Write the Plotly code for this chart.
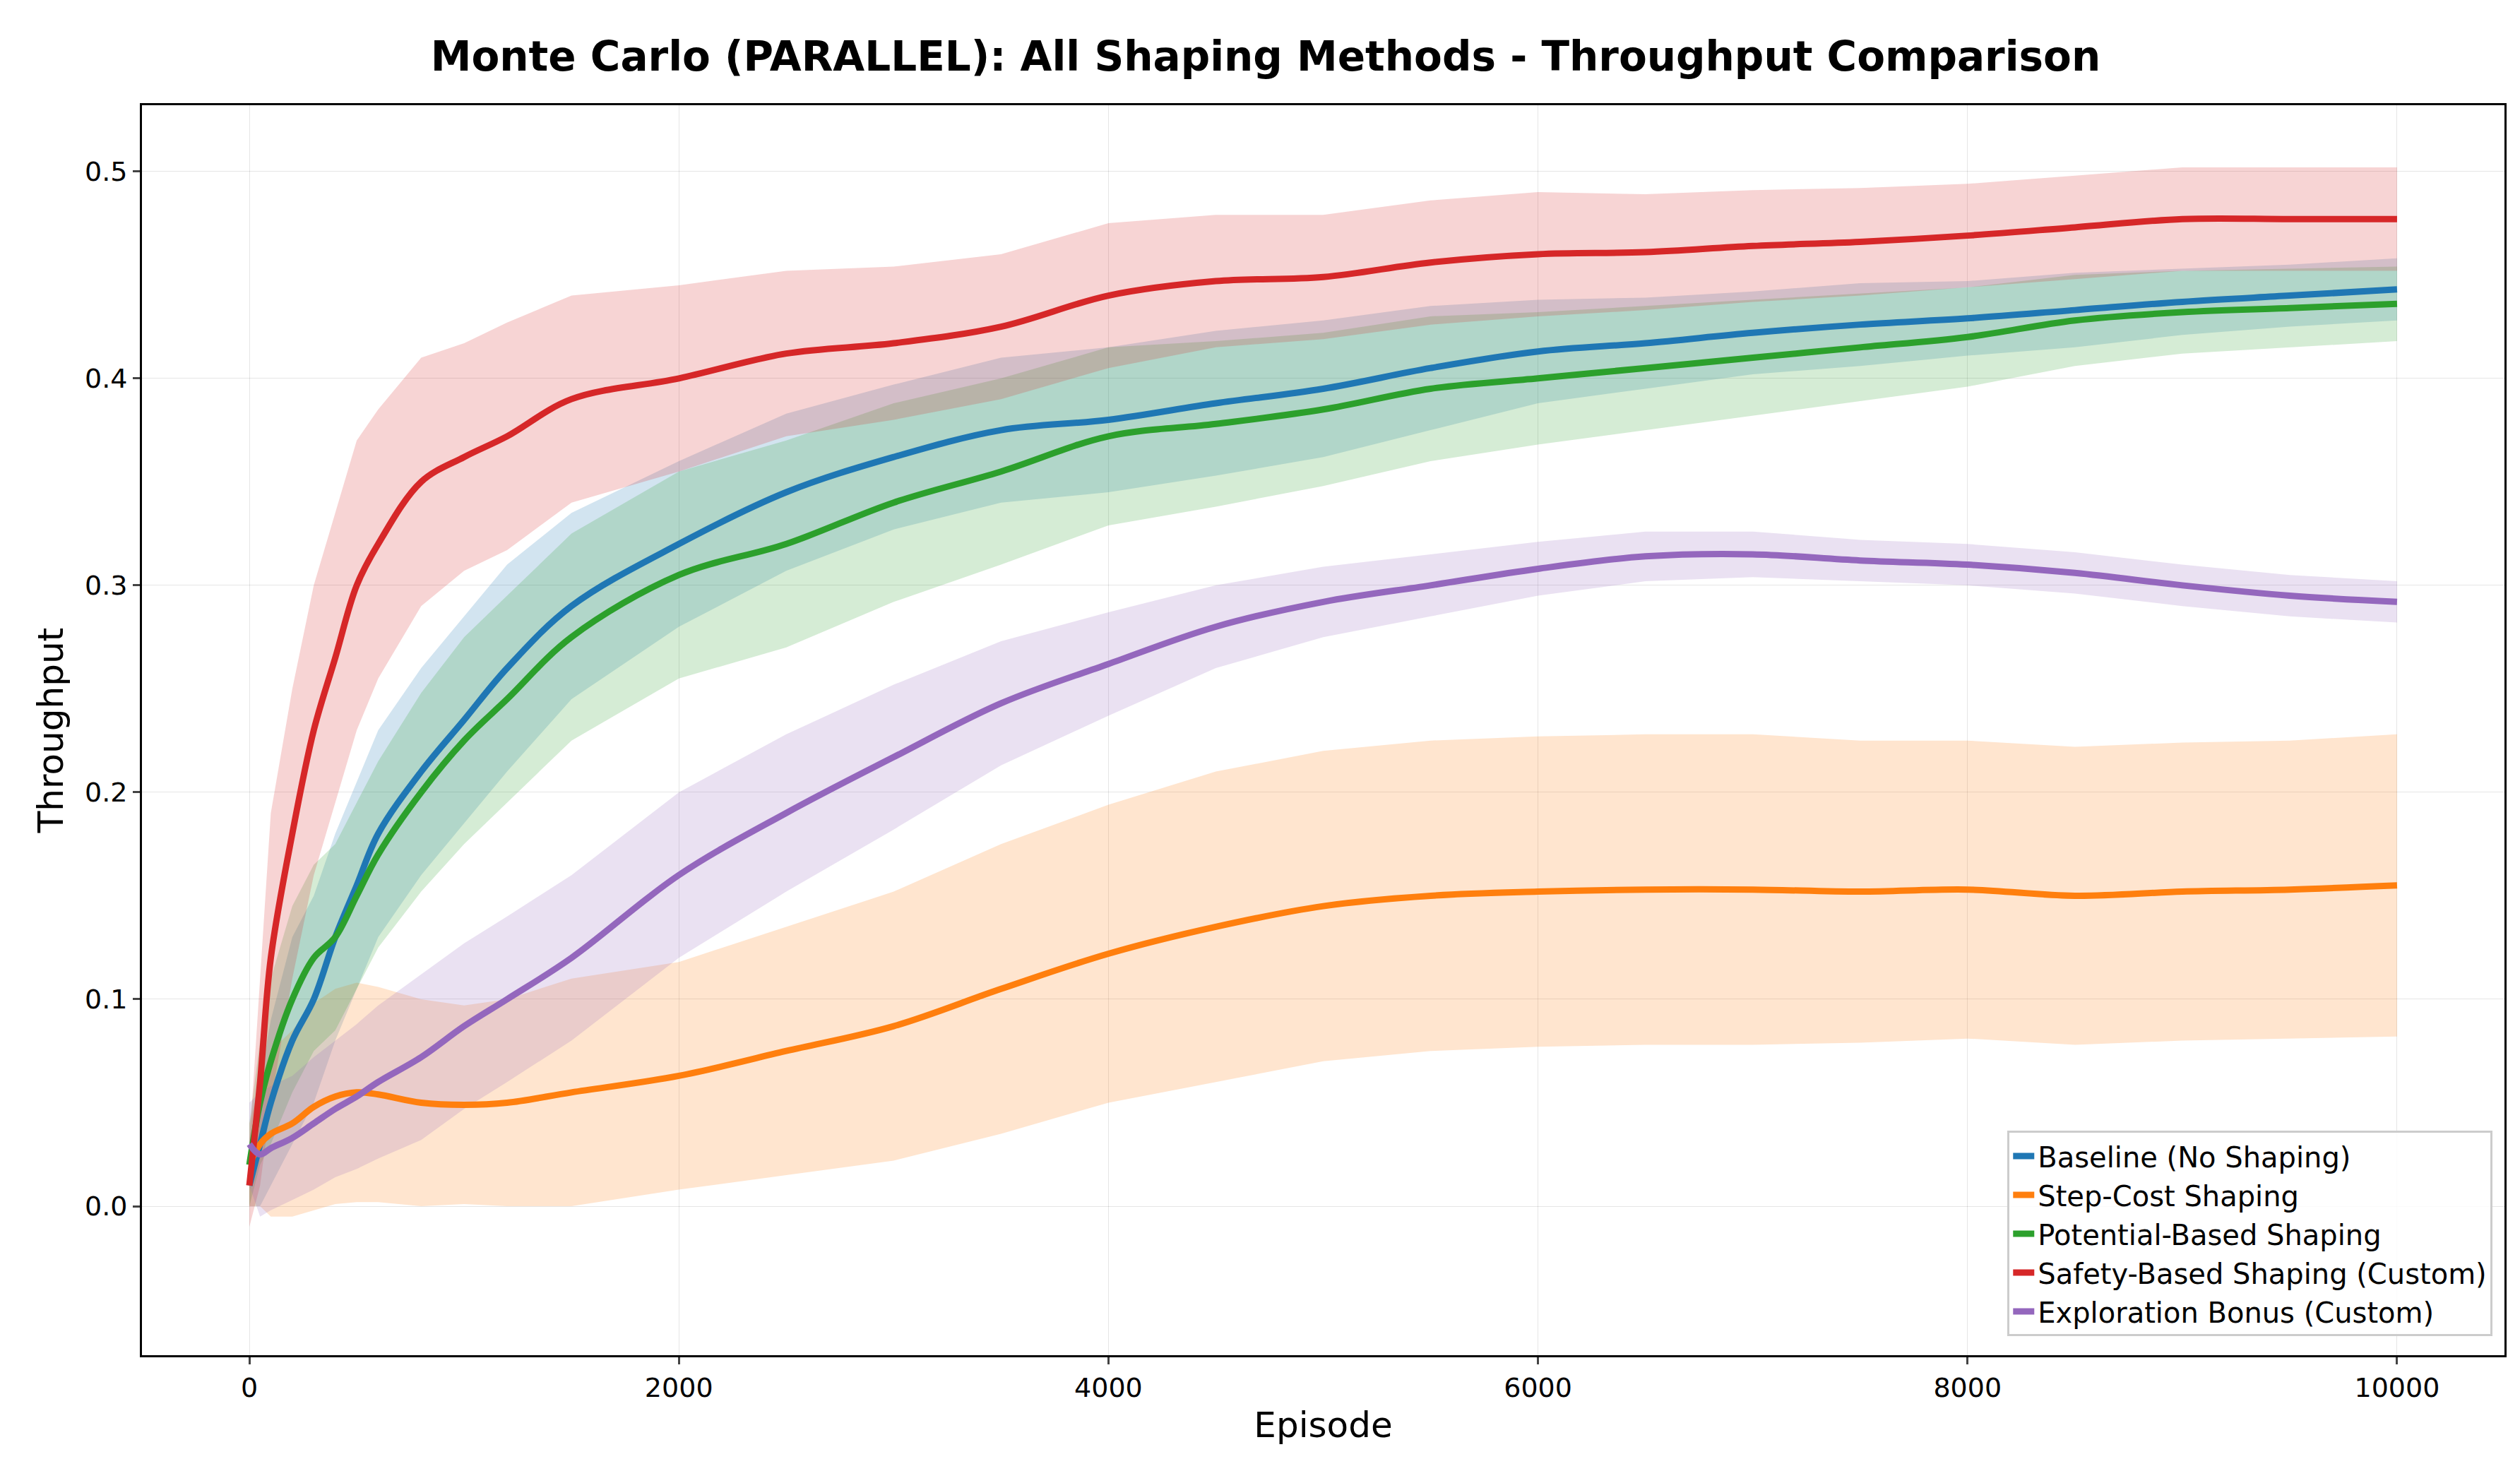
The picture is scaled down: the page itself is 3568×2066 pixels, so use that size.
import plotly.graph_objects as go

episodes = [0, 50, 100, 200, 300, 400, 500, 600, 800, 1000, 1200, 1500, 2000, 2500, 3000,
            3500, 4000, 4500, 5000, 5500, 6000, 6500, 7000, 7500, 8000, 8500, 9000, 9500, 10000]

baseline_mean = [0.01, 0.03, 0.05, 0.08, 0.10, 0.13, 0.155, 0.18, 0.21, 0.235, 0.26, 0.29, 0.32, 0.345, 0.362,
                 0.375, 0.38, 0.388, 0.395, 0.405, 0.413, 0.417, 0.422, 0.426, 0.429, 0.433, 0.437, 0.440, 0.443]
baseline_std = [0.01, 0.03, 0.04, 0.05, 0.05, 0.05, 0.05, 0.05, 0.05, 0.05, 0.05, 0.045, 0.04, 0.038, 0.035,
                0.035, 0.035, 0.035, 0.033, 0.03, 0.025, 0.022, 0.02, 0.02, 0.018, 0.018, 0.016, 0.015, 0.015]

stepcost_mean = [0.02, 0.03, 0.035, 0.04, 0.048, 0.053, 0.055, 0.054, 0.05, 0.049, 0.05, 0.055, 0.063, 0.075, 0.087,
                 0.105, 0.122, 0.135, 0.145, 0.15, 0.152, 0.153, 0.153, 0.152, 0.153, 0.15, 0.152, 0.153, 0.155]
stepcost_std = [0.02, 0.03, 0.04, 0.045, 0.05, 0.052, 0.053, 0.052, 0.05, 0.048, 0.05, 0.055, 0.055, 0.06, 0.065,
                0.07, 0.072, 0.075, 0.075, 0.075, 0.075, 0.075, 0.075, 0.073, 0.072, 0.072, 0.072, 0.072, 0.073]

potential_mean = [0.02, 0.05, 0.07, 0.1, 0.12, 0.13, 0.15, 0.17, 0.2, 0.225, 0.245, 0.275, 0.305, 0.32, 0.34,
                  0.355, 0.372, 0.378, 0.385, 0.395, 0.4, 0.405, 0.41, 0.415, 0.42, 0.428, 0.432, 0.434, 0.436]
potential_std = [0.02, 0.03, 0.04, 0.045, 0.045, 0.045, 0.045, 0.045, 0.048, 0.05, 0.05, 0.05, 0.05, 0.05, 0.048,
                 0.045, 0.043, 0.04, 0.037, 0.035, 0.032, 0.03, 0.028, 0.026, 0.024, 0.022, 0.02, 0.019, 0.018]

safety_mean = [0.01, 0.06, 0.12, 0.18, 0.23, 0.265, 0.3, 0.32, 0.35, 0.362, 0.372, 0.39, 0.4, 0.412, 0.417,
               0.425, 0.44, 0.447, 0.449, 0.456, 0.46, 0.461, 0.464, 0.466, 0.469, 0.473, 0.477, 0.477, 0.477]
safety_std = [0.02, 0.05, 0.07, 0.07, 0.07, 0.07, 0.07, 0.065, 0.06, 0.055, 0.055, 0.05, 0.045, 0.04, 0.037,
              0.035, 0.035, 0.032, 0.03, 0.03, 0.03, 0.028, 0.027, 0.026, 0.025, 0.025, 0.025, 0.025, 0.025]

explore_mean = [0.03, 0.025, 0.028, 0.033, 0.04, 0.047, 0.053, 0.06, 0.072, 0.087, 0.1, 0.12, 0.16, 0.19, 0.217,
                0.243, 0.262, 0.28, 0.292, 0.3, 0.308, 0.314, 0.315, 0.312, 0.31, 0.306, 0.3, 0.295, 0.292]
explore_std = [0.02, 0.03, 0.03, 0.03, 0.032, 0.033, 0.035, 0.037, 0.04, 0.04, 0.04, 0.04, 0.04, 0.038, 0.035,
               0.03, 0.025, 0.02, 0.017, 0.015, 0.013, 0.012, 0.011, 0.01, 0.01, 0.01, 0.01, 0.01, 0.01]

series = [
    ("Baseline (No Shaping)", baseline_mean, baseline_std, "31,119,180"),
    ("Step-Cost Shaping", stepcost_mean, stepcost_std, "255,127,14"),
    ("Potential-Based Shaping", potential_mean, potential_std, "44,160,44"),
    ("Safety-Based Shaping (Custom)", safety_mean, safety_std, "214,39,40"),
    ("Exploration Bonus (Custom)", explore_mean, explore_std, "148,103,189"),
]

fig = go.Figure()
for name, mean, std, rgb in series:
    upper = [m + s for m, s in zip(mean, std)]
    lower = [m - s for m, s in zip(mean, std)]
    fig.add_trace(go.Scatter(x=episodes + episodes[::-1], y=upper + lower[::-1], fill="toself",
                             fillcolor="rgba(%s,0.2)" % rgb, line=dict(width=0),
                             hoverinfo="skip", showlegend=False))
for name, mean, std, rgb in series:
    fig.add_trace(go.Scatter(x=episodes, y=mean, mode="lines", name=name,
                             line=dict(color="rgb(%s)" % rgb, width=9, shape="spline")))

axis = dict(showline=True, linecolor="black", linewidth=3, mirror=True, ticks="outside",
            ticklen=10, tickwidth=3, showgrid=True, gridcolor="rgba(0,0,0,0.1)", zeroline=False,
            tickfont=dict(size=38, color="black"))
fig.update_layout(
    width=3568, height=2066, plot_bgcolor="white", paper_bgcolor="white",
    font=dict(family="DejaVu Sans", color="black"),
    margin=dict(l=193, r=30, t=141, b=155),
    title=dict(text="<b>Monte Carlo (PARALLEL): All Shaping Methods - Throughput Comparison</b>",
               x=0.5, xanchor="center", y=0.975, font=dict(size=58)),
    xaxis=dict(axis, range=[-500, 10500], dtick=2000, tickformat="d",
               title=dict(text="Episode", font=dict(size=50))),
    yaxis=dict(axis, range=[-0.072, 0.532], dtick=0.1, tickformat=".1f",
               title=dict(text="Throughput", font=dict(size=50))),
    legend=dict(x=0.995, y=0.015, xanchor="right", yanchor="bottom", bgcolor="rgba(255,255,255,0.85)",
                bordercolor="#cccccc", borderwidth=3, font=dict(size=40)),
)
fig.write_html("out.html")
